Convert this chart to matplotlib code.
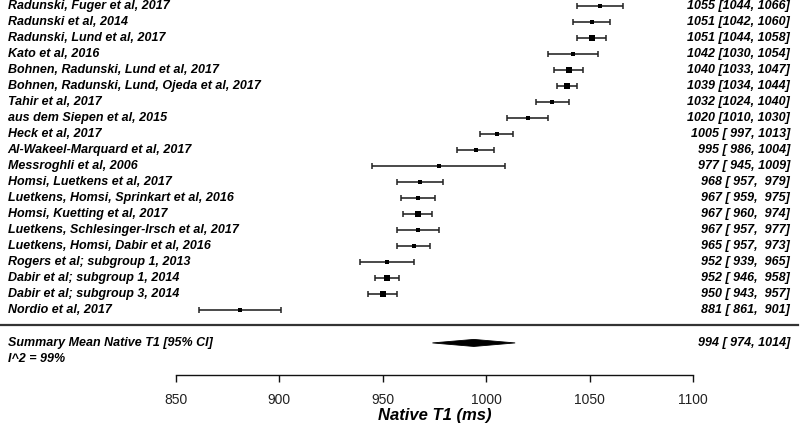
import matplotlib
matplotlib.use("Agg")
import matplotlib.pyplot as plt
import numpy as np

studies = [
    "Radunski, Fuger et al, 2017",
    "Radunski et al, 2014",
    "Radunski, Lund et al, 2017",
    "Kato et al, 2016",
    "Bohnen, Radunski, Lund et al, 2017",
    "Bohnen, Radunski, Lund, Ojeda et al, 2017",
    "Tahir et al, 2017",
    "aus dem Siepen et al, 2015",
    "Heck et al, 2017",
    "Al-Wakeel-Marquard et al, 2017",
    "Messroghli et al, 2006",
    "Homsi, Luetkens et al, 2017",
    "Luetkens, Homsi, Sprinkart et al, 2016",
    "Homsi, Kuetting et al, 2017",
    "Luetkens, Schlesinger-Irsch et al, 2017",
    "Luetkens, Homsi, Dabir et al, 2016",
    "Rogers et al; subgroup 1, 2013",
    "Dabir et al; subgroup 1, 2014",
    "Dabir et al; subgroup 3, 2014",
    "Nordio et al, 2017",
]
est = [1055, 1051, 1051, 1042, 1040, 1039, 1032, 1020, 1005, 995, 977, 968, 967, 967, 967, 965, 952, 952, 950, 881]
lo = [1044, 1042, 1044, 1030, 1033, 1034, 1024, 1010, 997, 986, 945, 957, 959, 960, 957, 957, 939, 946, 943, 861]
hi = [1066, 1060, 1058, 1054, 1047, 1044, 1040, 1030, 1013, 1004, 1009, 979, 975, 974, 977, 973, 965, 958, 957, 901]

summary_label = "Summary Mean Native T1 [95% CI]"
summary_est, summary_lo, summary_hi = 994, 974, 1014
i2_label = "I^2 = 99%"
xticks = [850, 900, 950, 1000, 1050, 1100]
xlabel = "Native T1 (ms)"

W, H = 800, 429
fig = plt.figure(figsize=(W / 100, H / 100), dpi=100)
axis_px = 374.7
ax = fig.add_axes([0, (H - axis_px) / H, 1, axis_px / H])

# pixel mapping
px_per_unit = 2.068
x0 = 850 - 176 / px_per_unit
x1 = 850 + (W - 176) / px_per_unit
row_px0, row_step = 5.5, 16.03
ax.set_xlim(x0, x1)
ax.set_ylim((axis_px - row_px0) / row_step, -row_px0 / row_step)

bi = dict(family="Liberation Sans", weight="bold", style="italic", fontsize=9)
n = len(studies)
rows = np.arange(n)
est_a, lo_a, hi_a = map(np.array, (est, lo, hi))
width = hi_a - lo_a
w = 1.0 / width ** 2
msize = 2.9 + 1.1 * np.sqrt(w / w.max())

lc = "#222222"
for r, e, l, h, ms in zip(rows, est_a, lo_a, hi_a, msize):
    ax.plot([l, h], [r, r], color=lc, lw=1.15, solid_capstyle="butt", zorder=2)
    ax.plot([l, h], [r, r], ls="none", marker="|", ms=5, mew=1.1, color=lc, zorder=2)
    ax.plot([e], [r], ls="none", marker="s", ms=ms, color="black", mew=0, zorder=3)

ytr = ax.get_yaxis_transform()
for r, s, e, l, h in zip(rows, studies, est, lo, hi):
    ax.text(0.0094, r, s, transform=ytr, ha="left", va="center", **bi)
    ax.text(0.9875, r, f"{e} [{l:4d}, {h:4d}]", transform=ytr, ha="right", va="center", **bi)

# separator
ax.plot([0, 0.9975], [n - 0.05, n - 0.05], transform=ytr, color="#333333", lw=1.6, clip_on=False)

# summary diamond
ys = 21.05
hh = 0.22
ax.fill([summary_lo, summary_est, summary_hi, summary_est],
        [ys, ys - hh, ys, ys + hh], color="black", lw=0.6, ec="black", zorder=3)
ax.text(0.0094, ys, summary_label, transform=ytr, ha="left", va="center", **bi)
ax.text(0.9875, ys, f"{summary_est} [{summary_lo:4d}, {summary_hi:4d}]", transform=ytr,
        ha="right", va="center", **bi)
ax.text(0.0094, 22.03, i2_label, transform=ytr, ha="left", va="center", **bi)

# axis
for sp in ["top", "left", "right"]:
    ax.spines[sp].set_visible(False)
ax.spines["bottom"].set_bounds(xticks[0], xticks[-1])
ax.spines["bottom"].set_linewidth(1.0)
ax.spines["bottom"].set_color("#111111")
ax.set_yticks([])
ax.set_xticks(xticks)
ax.set_xticklabels([str(t) for t in xticks], family="Liberation Sans", fontsize=10, color="#222222")
ax.tick_params(axis="x", length=5, width=1.0, pad=8.5, direction="out", color="#111111")
ax.set_facecolor("white")
ax.set_xlabel(xlabel, family="Liberation Sans", weight="bold", style="italic", fontsize=12)
ax.xaxis.set_label_coords(434.5 / W, -(415.5 - axis_px) / axis_px)
ax.xaxis.label.set_va("center")

fig.savefig("out.png", dpi=100, facecolor="white")
